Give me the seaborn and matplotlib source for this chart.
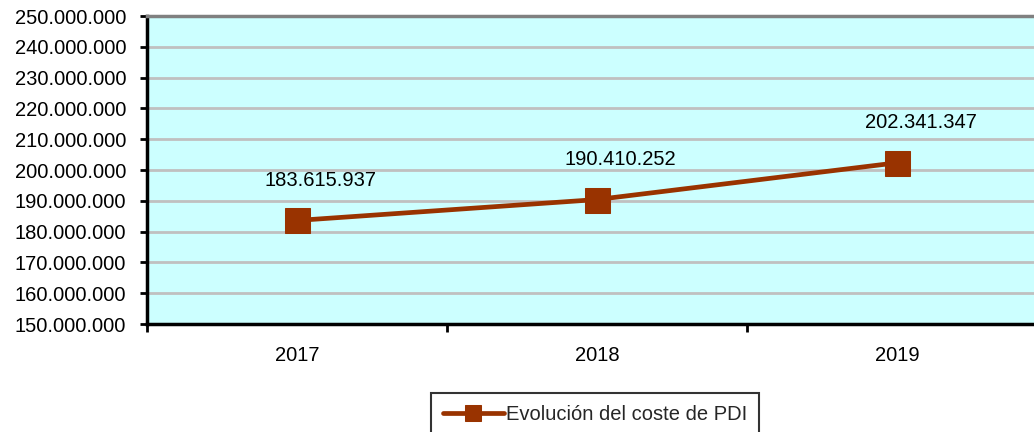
import matplotlib
matplotlib.use("Agg")
import matplotlib.pyplot as plt
from matplotlib.ticker import FuncFormatter, FixedLocator
import seaborn as sns
import pandas as pd

# Coste anual de PDI
years = ["2017", "2018", "2019"]
costs = [183615937, 190410252, 202341347]
series_name = "Evolución del coste de PDI"

y_min, y_max, y_step = 150_000_000, 250_000_000, 10_000_000

sns.set_theme(style="white")
plt.rcParams["font.family"] = ["Liberation Sans", "DejaVu Sans"]


def miles(v):
    return f"{int(round(v)):,}".replace(",", ".")


df = pd.DataFrame({"Año": years, "Coste": costs})

fig = plt.figure(figsize=(10.34, 4.32), dpi=100)
ax = fig.add_axes([147 / 1034, 108 / 432, 900 / 1034, 308 / 432])
ax.set_facecolor("#CCFFFF")

sns.lineplot(data=df, x="Año", y="Coste", ax=ax, color="#993300",
             linewidth=3.4, marker="s", markersize=18,
             markeredgecolor="#993300", label=series_name)

ax.set_xlim(-0.5, len(years) - 0.5)
ax.set_ylim(y_min, y_max)
ax.set_yticks(range(y_min, y_max + 1, y_step))
ax.yaxis.set_major_formatter(FuncFormatter(lambda v, p: miles(v)))
ax.yaxis.grid(True, color="#C0C0C0", linewidth=2)
ax.set_axisbelow(True)

# category labels centred, tick marks on category boundaries
ax.set_xticks(range(len(years)))
ax.set_xticklabels(years)
ax.xaxis.set_minor_locator(FixedLocator([i - 0.5 for i in range(len(years) + 1)]))
ax.tick_params(axis="x", which="major", length=0, pad=16, labelsize=14.5, colors="black")
ax.tick_params(axis="x", which="minor", bottom=True, length=6, width=2, color="black")
ax.tick_params(axis="y", left=True, length=5, width=2, pad=10, labelsize=14.5,
               colors="black")
ax.set_xlabel("")
ax.set_ylabel("")

for side in ("left", "bottom"):
    ax.spines[side].set_color("black")
    ax.spines[side].set_linewidth(2.5)
ax.spines["top"].set_color("#808080")
ax.spines["top"].set_linewidth(2.5)
ax.spines["right"].set_visible(False)

for i, v in enumerate(costs):
    ax.annotate(miles(v), xy=(i, v), xytext=(17, 29), textcoords="offset points",
                ha="center", va="center", fontsize=14.5, color="black")

ax.get_legend().remove()
leg = fig.legend(handles=ax.get_lines()[:1], labels=[series_name],
                 loc="upper center", bbox_to_anchor=(595 / 1034, 1 - 393 / 432),
                 fontsize=14.5, frameon=True, fancybox=False, handlelength=3.0,
                 handletextpad=0.1, borderpad=0.6, borderaxespad=0,
                 markerscale=0.65)
leg.get_frame().set_edgecolor("black")
leg.get_frame().set_linewidth(1.5)
leg.get_frame().set_facecolor("white")

fig.savefig("out.png", dpi=100, facecolor="white")
